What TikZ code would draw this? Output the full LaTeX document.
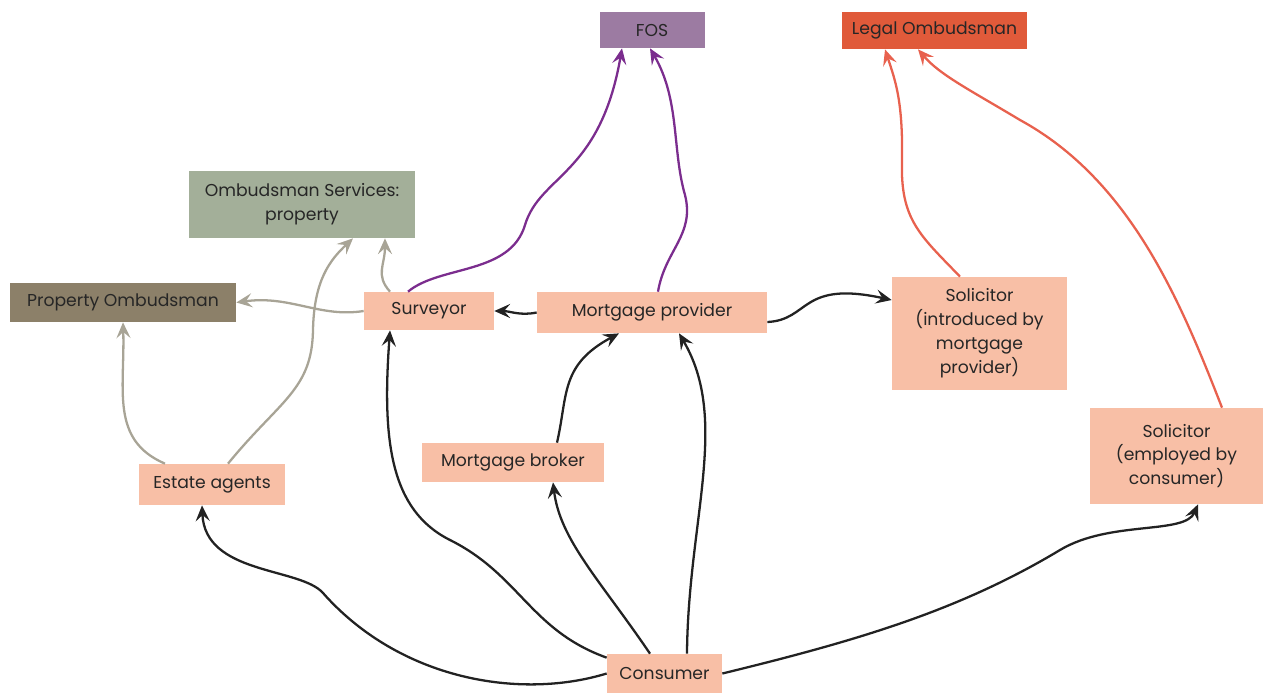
\documentclass[tikz,border=0pt]{standalone}
\usepackage{fontspec}
\usetikzlibrary{arrows.meta}
\setmainfont{Poppins}
\definecolor{firmfill}{HTML}{F8BFA6}
\definecolor{fosfill}{HTML}{9C7BA2}
\definecolor{legalfill}{HTML}{E05A3A}
\definecolor{ossfill}{HTML}{A3AF99}
\definecolor{pofill}{HTML}{8C8069}
\definecolor{fosline}{HTML}{7B2D8E}
\definecolor{legalline}{HTML}{E8614E}
\definecolor{propline}{HTML}{A8A496}
\definecolor{inkline}{HTML}{222222}
\begin{document}
\begin{tikzpicture}[>={Stealth[length=9pt,width=8pt,inset=3.5pt]},x=0.02cm,y=-0.02cm,
  font=\fontsize{9.8}{13.6}\selectfont,text=black!85,
  box/.style={inner sep=0pt,align=center},
  firm/.style={box,fill=firmfill},
  link/.style={->,line width=1.3pt,inkline}]
\useasboundingbox (0,0) rectangle (1263,693);
% ombudsman schemes
\node[box,fill=fosfill,minimum width=2.1cm,minimum height=0.72cm] (fos) at (652,30) {FOS};
\node[box,fill=legalfill,minimum width=3.7cm,minimum height=0.74cm] (legal) at (934.5,30.5) {Legal Ombudsman};
\node[box,fill=ossfill,minimum width=4.52cm,minimum height=1.34cm] (oss) at (302,204.5) {Ombudsman Services:\\property};
\node[box,fill=pofill,minimum width=4.52cm,minimum height=0.78cm] (po) at (123,302.5) {Property Ombudsman};
% firms
\node[firm,minimum width=2.6cm,minimum height=0.76cm] (surv) at (429,311) {Surveyor};
\node[firm,minimum width=4.6cm,minimum height=0.82cm] (mp) at (652,312.5) {Mortgage provider};
\node[firm,minimum width=3.5cm,minimum height=2.26cm] (sol1) at (979.5,333.5) {Solicitor\\(introduced by\\mortgage\\provider)};
\node[firm,minimum width=3.64cm,minimum height=0.78cm] (mb) at (513,462.5) {Mortgage broker};
\node[firm,minimum width=2.92cm,minimum height=0.82cm] (ea) at (212,484.5) {Estate agents};
\node[firm,minimum width=3.46cm,minimum height=1.92cm] (sol2) at (1176.5,456) {Solicitor\\(employed by\\consumer)};
\node[firm,minimum width=2.3cm,minimum height=0.78cm] (cons) at (664.5,673.5) {Consumer};
% consumer and firms
\draw[link] (cons.west) .. controls (520,700) and (400,680) .. (323,593) .. controls (300,567) and (205,575) .. ([xshift=-0.2cm]ea.south);
\draw[link] ([yshift=-0.08cm]cons.north west) .. controls (530,630) and (520,575) .. (450,540) .. controls (390,510) and (382,440) .. ([xshift=-0.78cm]surv.south);
\draw[link] ([xshift=-0.29cm]cons.north) .. controls (600,580) and (560,540) .. ([xshift=0.8cm]mb.south);
\draw[link] ([xshift=0.45cm]cons.north) .. controls (688,520) and (730,420) .. ([xshift=0.54cm]mp.south);
\draw[link] ([xshift=0.88cm]mb.north) .. controls (568,395) and (560,365) .. ([xshift=-0.66cm]mp.south);
\draw[link] (mp.west) .. controls (520,316) and (510,311) .. (surv.east);
\draw[link] ([yshift=-0.19cm]mp.east) .. controls (810,320) and (800,280) .. ([yshift=0.67cm]sol1.west);
\draw[link] (cons.east) .. controls (860,640) and (960,610) .. (1060,550) .. controls (1110,520) and (1185,535) .. ([xshift=0.43cm]sol2.south);
% complaints
\draw[link,fosline] ([xshift=-0.42cm]surv.north) .. controls (440,265) and (510,275) .. (525,225) .. controls (540,175) and (600,175) .. ([xshift=-0.6cm]fos.south);
\draw[link,fosline] ([xshift=0.12cm]mp.north) .. controls (665,250) and (695,235) .. (685,195) .. controls (672,150) and (680,100) .. ([xshift=-0.04cm]fos.south);
\draw[link,legalline] ([xshift=-0.39cm]sol1.north) .. controls (920,235) and (900,220) .. (902,160) .. controls (903,100) and (895,80) .. ([xshift=-0.99cm]legal.south);
\draw[link,legalline] ([xshift=0.91cm]sol2.north) .. controls (1180,300) and (1130,180) .. (1020,120) .. controls (970,90) and (940,75) .. ([xshift=-0.33cm]legal.south);
\draw[link,propline] (surv.west) .. controls (320,318) and (290,295) .. (po.east);
\draw[link,propline] ([xshift=-0.78cm]surv.north) .. controls (375,275) and (385,265) .. ([xshift=1.66cm]oss.south);
\draw[link,propline] ([xshift=-0.94cm]ea.north) .. controls (110,440) and (125,390) .. (po.south);
\draw[link,propline] ([xshift=0.32cm]ea.north) .. controls (280,400) and (312,390) .. (313,330) .. controls (314,280) and (330,260) .. ([xshift=1.02cm]oss.south);
\end{tikzpicture}
\end{document}
